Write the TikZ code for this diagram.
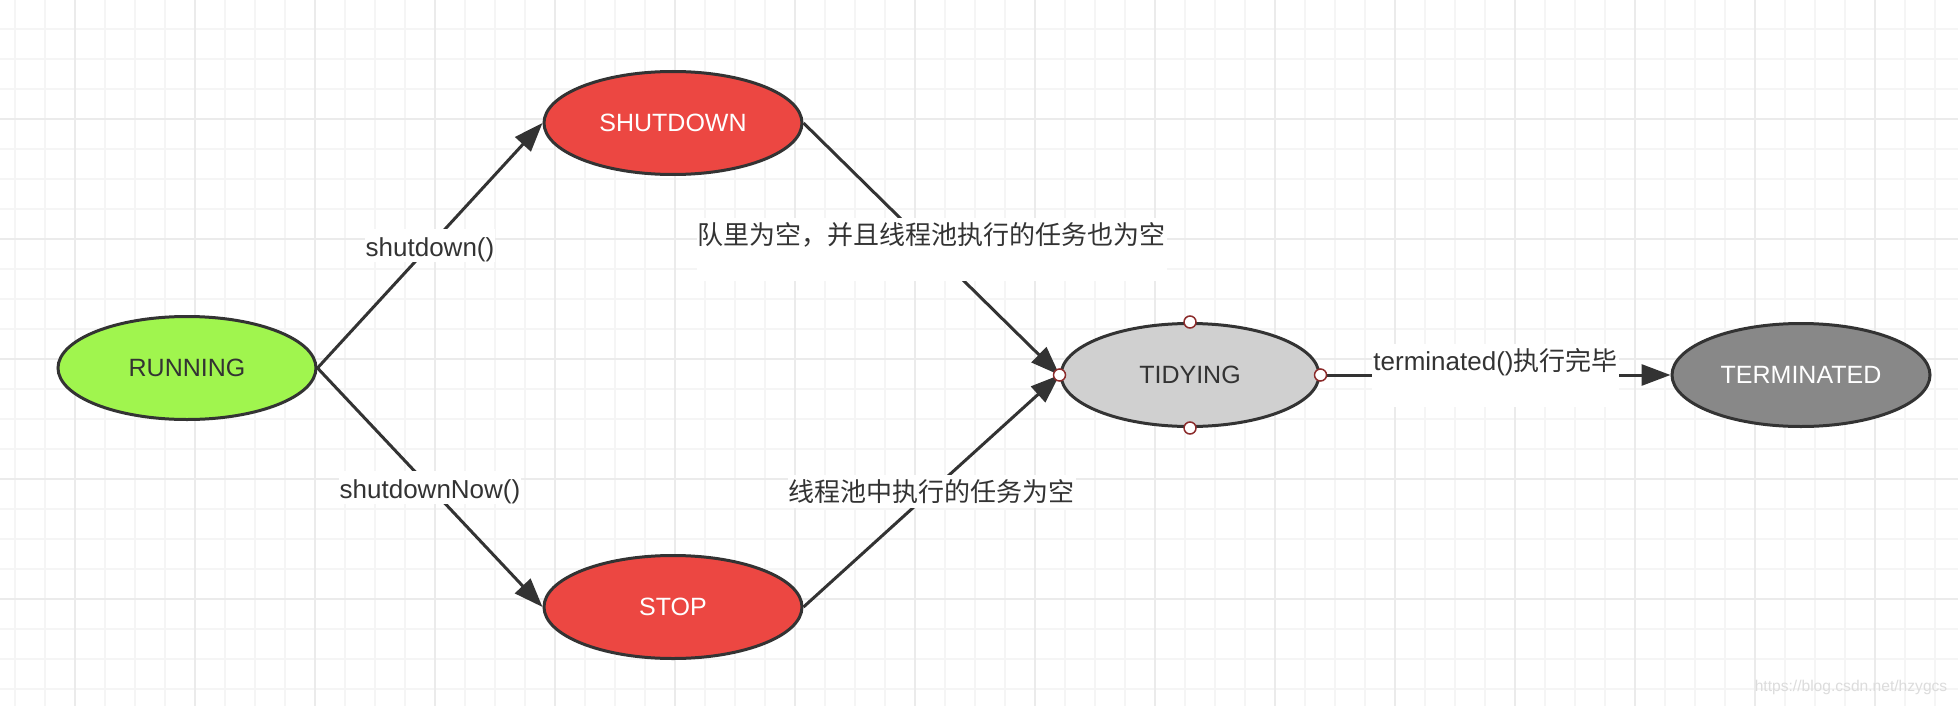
\documentclass[tikz,border=0pt]{standalone}
\usepackage{fontspec}
\setmainfont{Liberation Sans}
\newfontfamily\cjk{Noto Sans CJK SC}
\usetikzlibrary{arrows.meta,shapes.geometric}
\definecolor{gridminor}{HTML}{F5F5F5}
\definecolor{gridmajor}{HTML}{EBEBEB}
\definecolor{edgec}{HTML}{333333}
\definecolor{runfill}{HTML}{A0F54E}
\definecolor{redfill}{HTML}{EC4742}
\definecolor{tidyfill}{HTML}{D0D0D0}
\definecolor{termfill}{HTML}{888888}
\definecolor{portc}{HTML}{8B2B2B}
\definecolor{txt}{HTML}{333333}
\definecolor{wmc}{HTML}{DCDCDC}
\begin{document}
\begin{tikzpicture}[x=1pt,y=-1pt,
  state/.style={ellipse, draw=edgec, line width=3pt, minimum width=258pt, minimum height=103pt, inner sep=0pt, font=\fontsize{25}{30}\selectfont},
  lbl/.style={fill=white, text=txt, inner xsep=1pt, inner ysep=2pt, text height=25pt, text depth=4pt, font=\fontsize{26}{30}\selectfont},
  tall/.style={text depth=34pt},
  conn/.style={draw=edgec, line width=3pt, -{Triangle[length=29pt,width=21pt]}},
  port/.style={circle, draw=portc, fill=white, line width=1.5pt, minimum size=12pt, inner sep=0pt},
  gminor/.style={draw=gridminor, line width=2pt},
  gmajor/.style={draw=gridmajor, line width=2pt}]
\useasboundingbox (0,0) rectangle (1958,706);
\fill[white] (0,0) rectangle (1958,706);
% grid
\foreach \x in {15,45,...,1935} \draw[gminor] (\x,0) -- (\x,706);
\foreach \y in {29,59,...,689} \draw[gminor] (0,\y) -- (1958,\y);
\foreach \x in {75,195,...,1875} \draw[gmajor] (\x,0) -- (\x,706);
\foreach \y in {119,239,...,599} \draw[gmajor] (0,\y) -- (1958,\y);
% states
\node[state, fill=runfill, text=txt] (run) at (187,368) {RUNNING};
\node[state, fill=redfill, text=white] (shut) at (673,123) {SHUTDOWN};
\node[state, fill=redfill, text=white] (stop) at (673,607) {STOP};
\node[state, fill=tidyfill, text=txt] (tidy) at (1190,375) {TIDYING};
\node[state, fill=termfill, text=white] (term) at (1801,375) {TERMINATED};
% connectors
\draw[conn] (run.east) -- node[lbl] (l1) {shutdown()} (shut.west);
\draw[conn] (run.east) -- node[lbl] (l2) {shutdownNow()} (stop.west);
\draw[conn] (shut.east) -- node[lbl, tall] (l3) {\cjk 队里为空，并且线程池执行的任务也为空} (tidy.west);
\draw[conn] (stop.east) -- node[lbl] (l4) {\cjk 线程池中执行的任务为空} (tidy.west);
\draw[conn] (tidy.east) -- node[lbl, tall] (l5) {terminated(){\cjk 执行完毕}} (term.west);
% ports
\node[port] (pn) at (tidy.north) {};
\node[port] (ps) at (tidy.south) {};
\node[port] (pw) at (tidy.west) {};
\node[port] (pe) at (tidy.east) {};
% watermark
\node[font=\fontsize{15.6}{18}\selectfont, text=wmc, inner sep=0pt] (wm) at (1851,687) {https://blog.csdn.net/hzygcs};
\end{tikzpicture}
\end{document}
